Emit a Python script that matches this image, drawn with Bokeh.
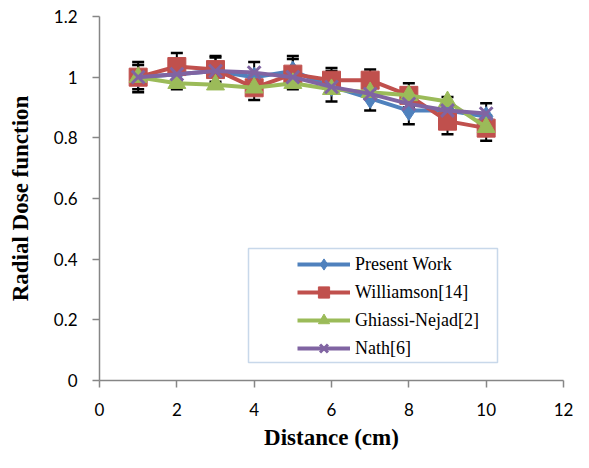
from bokeh.plotting import figure
from bokeh.models import (ColumnDataSource, Legend, LegendItem, BoxAnnotation,
                          Whisker, TeeHead, Range1d, FixedTicker, NumeralTickFormatter)
from bokeh.embed import file_html
from bokeh.resources import INLINE

# ---- data ----
distance = [1, 2, 3, 4, 5, 6, 7, 8, 9, 10]
present_work = [1.00, 1.01, 1.02, 1.00, 1.02, 0.97, 0.93, 0.89, 0.89, 0.87]
williamson = [1.00, 1.035, 1.025, 0.965, 1.01, 0.99, 0.99, 0.94, 0.855, 0.832]
ghiassi_nejad = [1.00, 0.98, 0.975, 0.965, 0.98, 0.96, 0.95, 0.94, 0.92, 0.835]
nath = [1.00, 1.01, 1.02, 1.015, 1.00, 0.968, 0.945, 0.912, 0.89, 0.88]
present_err = [0.05, 0.05, 0.05, 0.05, 0.05, 0.05, 0.04, 0.045, 0.045, 0.044]
williamson_err = [0.04, 0.045, 0.04, 0.04, 0.05, 0.04, 0.035, 0.04, 0.043, 0.042]

series_names = ["Present Work", "Williamson[14]", "Ghiassi-Nejad[2]", "Nath[6]"]
x_ticks = [0, 2, 4, 6, 8, 10, 12]
y_ticks = [0, 0.2, 0.4, 0.6, 0.8, 1.0, 1.2]

BLUE, RED, GREEN, PURPLE = "#4F81BD", "#C0504D", "#9BBB59", "#8064A2"
AXIS = "#868686"

p = figure(width=573, height=452, x_range=Range1d(0, 12), y_range=Range1d(0, 1.2),
           output_backend="svg", toolbar_location=None,
           min_border_left=99, min_border_right=10, min_border_top=16, min_border_bottom=72)
p.outline_line_color = None
p.xgrid.visible = False
p.ygrid.visible = False

# error bars
def add_err(vals, errs):
    src = ColumnDataSource(dict(x=distance,
                                upper=[v + e for v, e in zip(vals, errs)],
                                lower=[v - e for v, e in zip(vals, errs)]))
    w = Whisker(source=src, base="x", upper="upper", lower="lower",
                line_color="black", line_width=2,
                upper_head=TeeHead(size=12, line_color="black", line_width=2.5),
                lower_head=TeeHead(size=12, line_color="black", line_width=2.5))
    p.add_layout(w)

add_err(present_work, present_err)
add_err(williamson, williamson_err)

src = ColumnDataSource(dict(x=distance, pw=present_work, wi=williamson,
                            gn=ghiassi_nejad, na=nath))

l1 = p.line("x", "pw", source=src, line_color=BLUE, line_width=4)
s1 = p.scatter("x", "pw", source=src, marker="diamond", size=20,
               fill_color=BLUE, line_color=BLUE)
l2 = p.line("x", "wi", source=src, line_color=RED, line_width=4)
s2 = p.scatter("x", "wi", source=src, marker="square", size=18,
               fill_color=RED, line_color=RED)
l3 = p.line("x", "gn", source=src, line_color=GREEN, line_width=4)
s3 = p.scatter("x", "gn", source=src, marker="triangle", size=18,
               fill_color=GREEN, line_color=GREEN)
l4 = p.line("x", "na", source=src, line_color=PURPLE, line_width=4)
s4 = p.scatter("x", "na", source=src, marker="x", size=18,
               line_color=PURPLE, line_width=3)

# axes
for ax in (p.xaxis[0], p.yaxis[0]):
    ax.axis_line_color = AXIS
    ax.axis_line_width = 1.5
    ax.major_tick_line_color = AXIS
    ax.major_tick_line_width = 1.5
    ax.major_tick_out = 7
    ax.major_tick_in = 0
    ax.minor_tick_line_color = None
    ax.major_label_text_font = "Lato"
    ax.major_label_text_font_size = "17px"
    ax.major_label_text_color = "black"
    ax.axis_label_text_font = "Liberation Serif"
    ax.axis_label_text_font_style = "bold"
    ax.axis_label_text_font_size = "23px"
    ax.axis_label_text_color = "black"

p.xaxis.ticker = FixedTicker(ticks=x_ticks)
p.yaxis.ticker = FixedTicker(ticks=y_ticks)
p.yaxis.formatter = NumeralTickFormatter(format="0.[0]")
p.xaxis.axis_label = "Distance (cm)"
p.yaxis.axis_label = "Radial Dose function"
p.xaxis.major_label_standoff = 15
p.yaxis.major_label_standoff = 15
p.xaxis.axis_label_standoff = 6
p.yaxis.axis_label_standoff = 18

# legend frame
box = BoxAnnotation(left=149, right=398, bottom=18, top=132,
                    left_units="screen", right_units="screen",
                    bottom_units="screen", top_units="screen",
                    fill_color="white", fill_alpha=1.0,
                    line_color="#4A7EBB", line_width=1.5)
p.add_layout(box)

legend = Legend(items=[LegendItem(label=series_names[0], renderers=[l1, s1]),
                       LegendItem(label=series_names[1], renderers=[l2, s2]),
                       LegendItem(label=series_names[2], renderers=[l3, s3]),
                       LegendItem(label=series_names[3], renderers=[l4, s4])],
                location=(198, 18), orientation="vertical",
                border_line_color=None, background_fill_alpha=0,
                padding=0, spacing=0, margin=0,
                glyph_width=53, glyph_height=28, label_height=28, label_standoff=5,
                label_text_font="Liberation Serif", label_text_font_size="18px",
                label_text_color="black")
p.add_layout(legend)

open("out.html", "w").write(file_html(p, INLINE))
